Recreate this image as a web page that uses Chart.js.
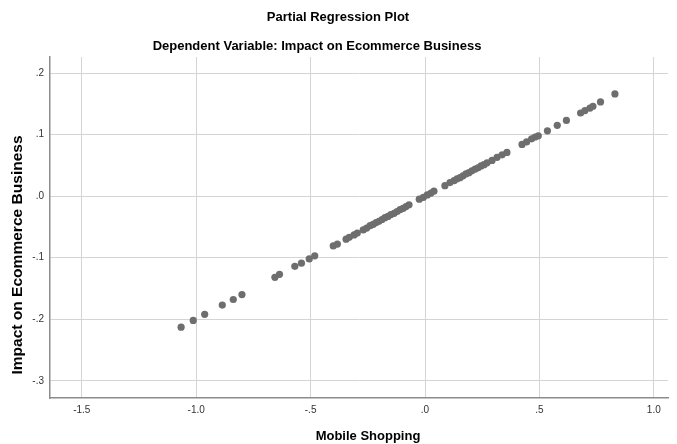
<!DOCTYPE html>
<html>
<head>
<meta charset="utf-8">
<script src="https://cdn.jsdelivr.net/npm/chart.js@4"></script>
<style>
    body { margin: 0; background: #fff; }
    #wrap { width: 677px; height: 444px; }
</style>
</head>
<body>
<div id="wrap"><canvas id="plot"></canvas></div>
<script>
// values
const mobileShopping = [
    -1.066, -1.013, -0.963, -0.886, -0.838, -0.800, -0.656, -0.636, -0.569, -0.540,
    -0.506, -0.482, -0.401, -0.383, -0.345, -0.331, -0.310, -0.296, -0.270, -0.255,
    -0.240, -0.227, -0.214, -0.201, -0.188, -0.175, -0.162, -0.149, -0.135, -0.122,
    -0.109, -0.096, -0.083, -0.070, -0.025, -0.007, 0.010, 0.026, 0.039, 0.087,
    0.109, 0.127, 0.140, 0.153, 0.166, 0.179, 0.192, 0.205, 0.219, 0.232,
    0.245, 0.258, 0.271, 0.293, 0.315, 0.337, 0.358, 0.424, 0.444, 0.466,
    0.481, 0.495, 0.535, 0.578, 0.618, 0.680, 0.699, 0.721, 0.734, 0.767, 0.830
];
const impactOnBusiness = [
    -0.213, -0.202, -0.192, -0.177, -0.168, -0.160, -0.132, -0.127, -0.114, -0.109,
    -0.102, -0.097, -0.081, -0.078, -0.070, -0.067, -0.063, -0.060, -0.055, -0.052,
    -0.048, -0.046, -0.043, -0.041, -0.038, -0.035, -0.033, -0.030, -0.028, -0.025,
    -0.022, -0.020, -0.017, -0.014, -0.005, -0.002, 0.002, 0.005, 0.008, 0.017,
    0.022, 0.025, 0.028, 0.030, 0.033, 0.036, 0.038, 0.041, 0.044, 0.046,
    0.049, 0.051, 0.054, 0.058, 0.063, 0.067, 0.071, 0.084, 0.088, 0.093,
    0.096, 0.098, 0.106, 0.115, 0.123, 0.135, 0.139, 0.143, 0.146, 0.153, 0.166
];
const xTicks = [-1.5, -1.0, -0.5, 0, 0.5, 1.0];
const yTicks = [-0.3, -0.2, -0.1, 0, 0.1, 0.2];

const points = mobileShopping.map((x, i) => ({ x: x, y: impactOnBusiness[i] }));

// SPSS style labels: ".5", "-.1", "1.0"
function fmt(v) {
    return v.toFixed(1).replace(/^(-?)0\./, '$1.');
}

const titles = {
    id: 'titles',
    afterDraw(chart) {
        const c = chart.ctx;
        c.save();
        c.fillStyle = '#000';
        c.textAlign = 'center';
        c.textBaseline = 'middle';
        c.font = 'bold 13px Arial';
        c.fillText('Partial Regression Plot', 338, 17);
        c.fillText('Dependent Variable: Impact on Ecommerce Business', 317, 46);
        c.fillText('Mobile Shopping', 368, 436);
        c.font = 'bold 14px Arial';
        c.translate(18, 255);
        c.rotate(-Math.PI / 2);
        c.scale(1.11, 1);
        c.fillText('Impact on Ecommerce Business', 0, 0);
        c.restore();
    }
};

const ctx = document.getElementById('plot').getContext('2d');
const plot = new Chart(ctx, {
    type: 'scatter',
    data: {
        datasets: [{
            data: points,
            backgroundColor: '#6e6e6e',
            borderColor: '#6e6e6e',
            pointRadius: 3.6,
            borderWidth: 0,
        }],
    },
    options: {
        responsive: true,
        maintainAspectRatio: false,
        animation: false,
        layout: {
            padding: { top: 57, right: 9, left: 0, bottom: 0 },
        },
        plugins: {
            legend: { display: false },
            tooltip: { enabled: false },
        },
        scales: {
            x: {
                type: 'linear',
                min: -1.639,
                max: 1.062,
                afterBuildTicks: (scale) => { scale.ticks = xTicks.map(v => ({ value: v })); },
                afterFit: (scale) => { scale.height = 46; },
                grid: { color: '#d4d4d4', drawTicks: false },
                border: { color: '#8c8c8c', width: 1.5 },
                ticks: {
                    padding: 6,
                    color: '#333',
                    font: { family: 'Arial', size: 10 },
                    callback: (v) => fmt(v),
                    maxRotation: 0,
                },
            },
            y: {
                type: 'linear',
                min: -0.328,
                max: 0.226,
                afterBuildTicks: (scale) => { scale.ticks = yTicks.map(v => ({ value: v })); },
                afterFit: (scale) => { scale.width = 50; },
                grid: { color: '#d4d4d4', drawTicks: false },
                border: { color: '#8c8c8c', width: 1.5 },
                ticks: {
                    padding: 6,
                    color: '#333',
                    font: { family: 'Arial', size: 10 },
                    callback: (v) => fmt(v),
                },
            },
        },
    },
    plugins: [titles],
});
</script>
</body>
</html>
